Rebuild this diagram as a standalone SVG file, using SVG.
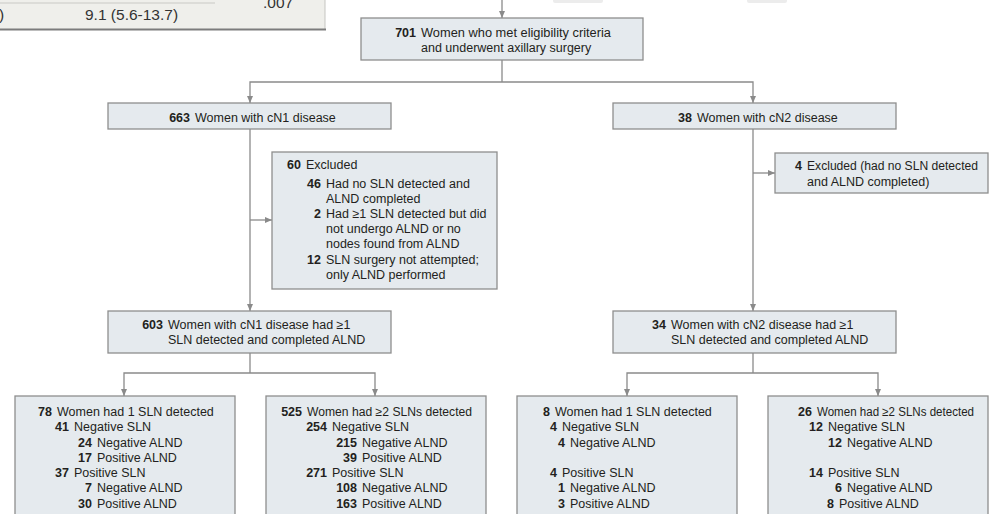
<svg xmlns="http://www.w3.org/2000/svg" width="992" height="514" viewBox="0 0 992 514">
<defs>
<style>
.box{fill:#e5eaee;stroke:#8e8e8e;stroke-width:1.3}
.t{font-family:"Liberation Sans",Arial,sans-serif;font-size:12.5px;fill:#231f20}
.n{font-family:"Liberation Sans",Arial,sans-serif;font-size:12.5px;fill:#231f20;font-weight:bold;text-anchor:end}
.c{fill:none;stroke:#8a8a8a;stroke-width:1.3}
.p{font-family:"Liberation Sans",Arial,sans-serif;font-size:15.5px;fill:#333}
</style>
<marker id="ah" markerUnits="userSpaceOnUse" markerWidth="8" markerHeight="8" refX="7" refY="3.5" orient="auto">
<path d="M0,0.5 L7,3.5 L0,6.5 z" fill="#8a8a8a"/>
</marker>
</defs>
<rect width="992" height="514" fill="#ffffff"/>

<g id="table-fragment">
<rect x="-2" y="-2" width="327" height="32" fill="#efefeb"/>
<line x1="0" y1="3" x2="215" y2="3" stroke="#c9c9c5" stroke-width="1"/>
<line x1="325" y1="0" x2="325" y2="30" stroke="#c5c5c1" stroke-width="1"/>
<line x1="0" y1="29.5" x2="326" y2="29.5" stroke="#7c7c7c" stroke-width="2"/>
<text class="p" x="-1" y="19.5">)</text>
<text class="p" x="85" y="19.5">9.1 (5.6-13.7)</text>
<text class="p" x="263" y="8">.007</text>
</g>
<rect x="553" y="-3" width="50" height="6" rx="2" fill="#ececec"/>
<rect x="747" y="-3" width="40" height="6" rx="2" fill="#ececec"/>

<g id="connectors">
<path class="c" d="M502,0 V18" marker-end="url(#ah)"/>
<path class="c" d="M502,60 V82"/>
<path class="c" d="M502,82 H250 V103" marker-end="url(#ah)"/>
<path class="c" d="M502,82 H753 V103" marker-end="url(#ah)"/>
<path class="c" d="M250,129 V311" marker-end="url(#ah)"/>
<path class="c" d="M250,220 H272" marker-end="url(#ah)"/>
<path class="c" d="M753,129 V311" marker-end="url(#ah)"/>
<path class="c" d="M753,173 H775" marker-end="url(#ah)"/>
<path class="c" d="M250,353 V373"/>
<path class="c" d="M250,373 H124 V396" marker-end="url(#ah)"/>
<path class="c" d="M250,373 H375 V396" marker-end="url(#ah)"/>
<path class="c" d="M753,353 V373"/>
<path class="c" d="M753,373 H627 V396" marker-end="url(#ah)"/>
<path class="c" d="M753,373 H878 V396" marker-end="url(#ah)"/>
</g>

<g id="n701">
<rect class="box" x="361" y="18" width="282" height="42"/>
<text class="n" x="416" y="36.5">701</text>
<text class="t" x="421" y="36.5" textLength="190" lengthAdjust="spacingAndGlyphs">Women who met eligibility criteria</text>
<text class="t" x="421" y="51.5">and underwent axillary surgery</text>
</g>

<g id="n663">
<rect class="box" x="108" y="103" width="283" height="26"/>
<text class="n" x="190" y="122">663</text>
<text class="t" x="195" y="122">Women with cN1 disease</text>
</g>

<g id="n38">
<rect class="box" x="613" y="103" width="283" height="26"/>
<text class="n" x="692" y="122">38</text>
<text class="t" x="697" y="122">Women with cN2 disease</text>
</g>

<g id="excl-cn1">
<rect class="box" x="272" y="152" width="225" height="137"/>
<text class="n" x="301" y="169">60</text>
<text class="t" x="306" y="169">Excluded</text>
<text class="n" x="321" y="187.5">46</text>
<text class="t" x="326" y="187.5">Had no SLN detected and</text>
<text class="t" x="326" y="202.5">ALND completed</text>
<text class="n" x="321" y="218">2</text>
<text class="t" x="326" y="218">Had ≥1 SLN detected but did</text>
<text class="t" x="326" y="233">not undergo ALND or no</text>
<text class="t" x="326" y="248">nodes found from ALND</text>
<text class="n" x="321" y="263.5">12</text>
<text class="t" x="326" y="263.5">SLN surgery not attempted;</text>
<text class="t" x="326" y="278.5">only ALND performed</text>
</g>

<g id="excl-cn2">
<rect class="box" x="775" y="153" width="213" height="40"/>
<text class="n" x="802" y="170">4</text>
<text class="t" x="807" y="170" textLength="171" lengthAdjust="spacingAndGlyphs">Excluded (had no SLN detected</text>
<text class="t" x="807" y="186">and ALND completed)</text>
</g>

<g id="n603">
<rect class="box" x="108" y="311" width="283" height="42"/>
<text class="n" x="163" y="328.5">603</text>
<text class="t" x="168" y="328.5">Women with cN1 disease had ≥1</text>
<text class="t" x="168" y="343.5">SLN detected and completed ALND</text>
</g>

<g id="n34">
<rect class="box" x="613" y="311" width="283" height="42"/>
<text class="n" x="666" y="328.5">34</text>
<text class="t" x="671" y="328.5">Women with cN2 disease had ≥1</text>
<text class="t" x="671" y="343.5">SLN detected and completed ALND</text>
</g>

<g id="n78">
<rect class="box" x="15" y="396" width="220" height="140"/>
<text class="n" x="52" y="415.5">78</text>
<text class="t" x="57" y="415.5">Women had 1 SLN detected</text>
<text class="n" x="69" y="431">41</text>
<text class="t" x="74" y="431">Negative SLN</text>
<text class="n" x="92" y="446.5">24</text>
<text class="t" x="97" y="446.5">Negative ALND</text>
<text class="n" x="92" y="461.5">17</text>
<text class="t" x="97" y="461.5">Positive ALND</text>
<text class="n" x="69" y="477">37</text>
<text class="t" x="74" y="477">Positive SLN</text>
<text class="n" x="92" y="492">7</text>
<text class="t" x="97" y="492">Negative ALND</text>
<text class="n" x="92" y="507.5">30</text>
<text class="t" x="97" y="507.5">Positive ALND</text>
</g>

<g id="n525">
<rect class="box" x="266" y="396" width="220" height="140"/>
<text class="n" x="302" y="415.5">525</text>
<text class="t" x="307" y="415.5" textLength="165" lengthAdjust="spacingAndGlyphs">Women had ≥2 SLNs detected</text>
<text class="n" x="327" y="431">254</text>
<text class="t" x="332" y="431">Negative SLN</text>
<text class="n" x="357" y="446.5">215</text>
<text class="t" x="362" y="446.5">Negative ALND</text>
<text class="n" x="357" y="461.5">39</text>
<text class="t" x="362" y="461.5">Positive ALND</text>
<text class="n" x="327" y="477">271</text>
<text class="t" x="332" y="477">Positive SLN</text>
<text class="n" x="357" y="492">108</text>
<text class="t" x="362" y="492">Negative ALND</text>
<text class="n" x="357" y="507.5">163</text>
<text class="t" x="362" y="507.5">Positive ALND</text>
</g>

<g id="n8">
<rect class="box" x="517" y="396" width="220" height="140"/>
<text class="n" x="550" y="415.5">8</text>
<text class="t" x="555" y="415.5">Women had 1 SLN detected</text>
<text class="n" x="557" y="431">4</text>
<text class="t" x="562" y="431">Negative SLN</text>
<text class="n" x="565" y="446.5">4</text>
<text class="t" x="570" y="446.5">Negative ALND</text>
<text class="n" x="557" y="477">4</text>
<text class="t" x="562" y="477">Positive SLN</text>
<text class="n" x="565" y="492">1</text>
<text class="t" x="570" y="492">Negative ALND</text>
<text class="n" x="565" y="507.5">3</text>
<text class="t" x="570" y="507.5">Positive ALND</text>
</g>

<g id="n26">
<rect class="box" x="768" y="396" width="220" height="140"/>
<text class="n" x="812" y="415.5">26</text>
<text class="t" x="817" y="415.5" textLength="157" lengthAdjust="spacingAndGlyphs">Women had ≥2 SLNs detected</text>
<text class="n" x="823" y="431">12</text>
<text class="t" x="828" y="431">Negative SLN</text>
<text class="n" x="842" y="446.5">12</text>
<text class="t" x="847" y="446.5">Negative ALND</text>
<text class="n" x="823" y="477">14</text>
<text class="t" x="828" y="477">Positive SLN</text>
<text class="n" x="842" y="492">6</text>
<text class="t" x="847" y="492">Negative ALND</text>
<text class="n" x="834" y="507.5">8</text>
<text class="t" x="839" y="507.5">Positive ALND</text>
</g>
</svg>
